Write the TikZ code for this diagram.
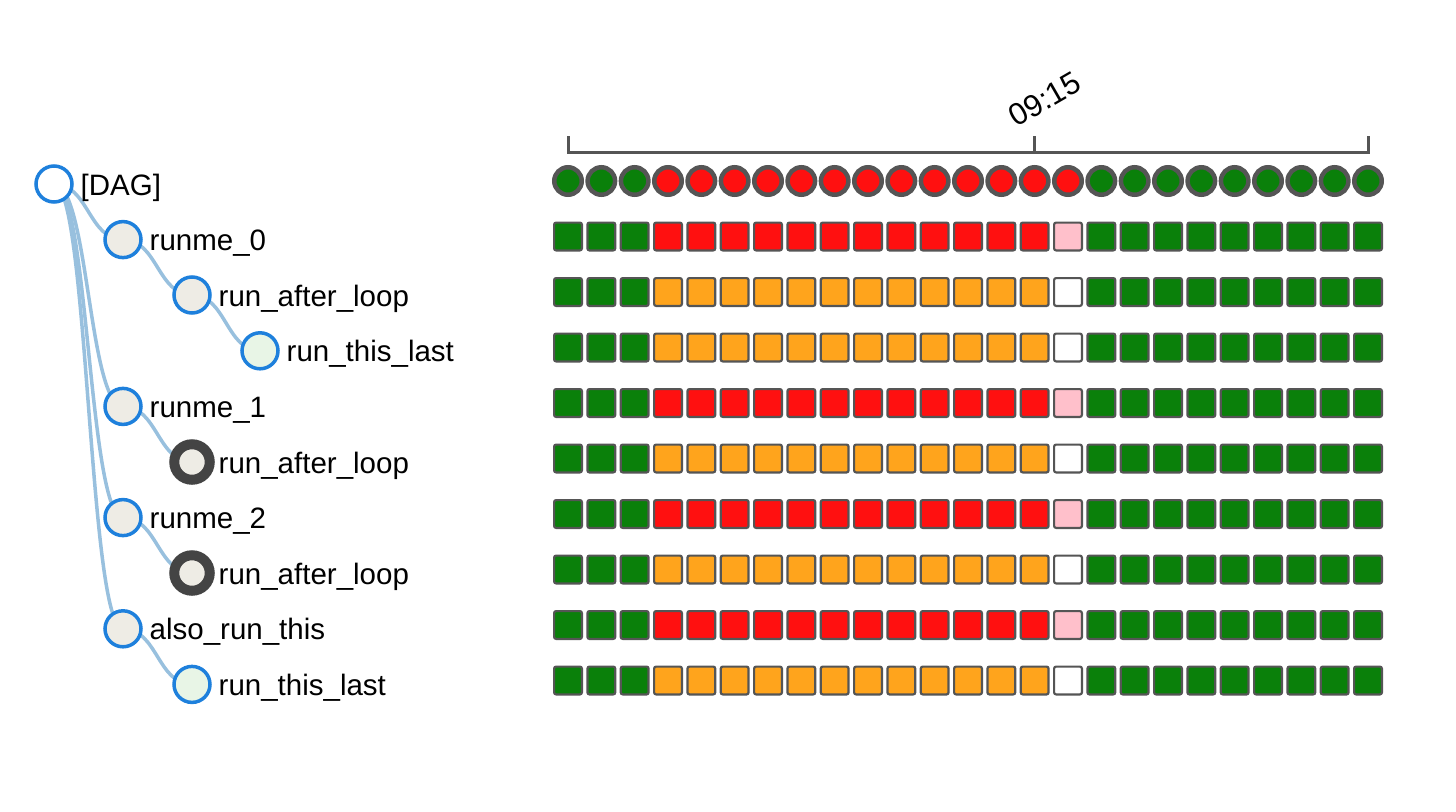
\documentclass[tikz,border=0pt]{standalone}
\usepackage{fontspec}
\setmainfont{Liberation Sans}
\usetikzlibrary{calc}
\pgfdeclarelayer{bg}
\pgfsetlayers{bg,main}
\definecolor{okgreen}{HTML}{0A800A}
\definecolor{fred}{HTML}{FF1010}
\definecolor{forange}{HTML}{FFA41C}
\definecolor{fpink}{HTML}{FFC0CB}
\definecolor{bord}{HTML}{555555}
\definecolor{nodeblue}{HTML}{1E80DC}
\definecolor{edgeblue}{HTML}{98C0DE}
\definecolor{beige}{HTML}{EEECE5}
\definecolor{lgreen}{HTML}{E8F5E6}
\definecolor{darkring}{HTML}{444444}
\tikzset{
  tnode/.style={circle, draw=nodeblue, line width=3.5pt, minimum size=36pt, inner sep=0pt},
  ringnode/.style={circle, draw=darkring, line width=10pt, minimum size=35.5pt, inner sep=0pt, fill=beige},
  lab/.style={anchor=base west, inner sep=0pt, font=\fontsize{29.5}{34}\selectfont},
  dot/.style={circle, draw=bord, line width=4.5pt, minimum size=27.5pt, inner sep=0pt},
  cell/.style={rectangle, draw=bord, line width=2.2pt, minimum size=27.8pt, inner sep=0pt, rounded corners=2pt},
  link/.style={draw=edgeblue, line width=3.5pt},
  axis/.style={draw=bord, line width=3pt}
}
\newcommand{\treelink}[2]{%
  \draw[link] let \p1=(#1), \p2=(#2), \p3=($(\p1)!0.5!(\p2)$) in (\p1) .. controls (\x3,\y1) and (\x3,\y2) .. (\p2);}
\begin{document}
\begin{tikzpicture}[x=1pt,y=-1pt]
\useasboundingbox (0,0) rectangle (1456,811);
% tree
\node[tnode, fill=white] (t0) at (54,184) {};
\node[tnode, fill=beige] (t1) at (123,239.6) {};
\node[tnode, fill=beige] (t2) at (192,295) {};
\node[tnode, fill=lgreen] (t3) at (260,350.8) {};
\node[tnode, fill=beige] (t4) at (123,406.4) {};
\node[ringnode] (t5) at (192,462) {};
\node[tnode, fill=beige] (t6) at (123,517.6) {};
\node[ringnode] (t7) at (192,573) {};
\node[tnode, fill=beige] (t8) at (123,628.8) {};
\node[tnode, fill=lgreen] (t9) at (192,684.4) {};
\node[lab] (l0) at (80.5,195) {[DAG]};
\node[lab] (l1) at (149.5,250.6) {runme\_0};
\node[lab] (l2) at (218.5,306) {run\_after\_loop};
\node[lab] (l3) at (286.5,361.8) {run\_this\_last};
\node[lab] (l4) at (149.5,417.4) {runme\_1};
\node[lab] (l5) at (218.5,473) {run\_after\_loop};
\node[lab] (l6) at (149.5,528.6) {runme\_2};
\node[lab] (l7) at (218.5,584) {run\_after\_loop};
\node[lab] (l8) at (149.5,639.8) {also\_run\_this};
\node[lab] (l9) at (218.5,695.4) {run\_this\_last};
\begin{pgfonlayer}{bg}
\treelink{t0}{t1}
\treelink{t1}{t2}
\treelink{t2}{t3}
\treelink{t0}{t4}
\treelink{t4}{t5}
\treelink{t0}{t6}
\treelink{t6}{t7}
\treelink{t0}{t8}
\treelink{t8}{t9}
\end{pgfonlayer}
% axis
\coordinate (a0) at (568,136);
\coordinate (a1) at (568,152);
\coordinate (a2) at (1368,152);
\coordinate (a3) at (1368,136);
\coordinate (m0) at (1034.7,152);
\coordinate (m1) at (1034.7,136);
\draw[axis] (a0) -- (a1) -- (a2) -- (a3);
\draw[axis] (m0) -- (m1);
\node[rotate=30, anchor=base west, inner sep=0pt, font=\fontsize{31}{36}\selectfont] (tick) at (1016,128) {09:15};
% dag run circles
\foreach \i in {0,...,2} \node[dot, fill=okgreen] (d\i) at ({568+33.333*\i},181) {};
\foreach \i in {3,...,15} \node[dot, fill=fred] (d\i) at ({568+33.333*\i},181) {};
\foreach \i in {16,...,24} \node[dot, fill=okgreen] (d\i) at ({568+33.333*\i},181) {};
% task instance squares
\foreach \r/\c/\m in {1/fred/fpink, 2/forange/white, 3/forange/white, 4/fred/fpink, 5/forange/white, 6/fred/fpink, 7/forange/white, 8/fred/fpink, 9/forange/white} {
  \foreach \i in {0,...,2} \node[cell, fill=okgreen] (c\r-\i) at ({568+33.333*\i},{181+55.5*\r}) {};
  \foreach \i in {3,...,14} \node[cell, fill=\c] (c\r-\i) at ({568+33.333*\i},{181+55.5*\r}) {};
  \node[cell, fill=\m] (c\r-15) at ({568+33.333*15},{181+55.5*\r}) {};
  \foreach \i in {16,...,24} \node[cell, fill=okgreen] (c\r-\i) at ({568+33.333*\i},{181+55.5*\r}) {};
}
\end{tikzpicture}
\end{document}
